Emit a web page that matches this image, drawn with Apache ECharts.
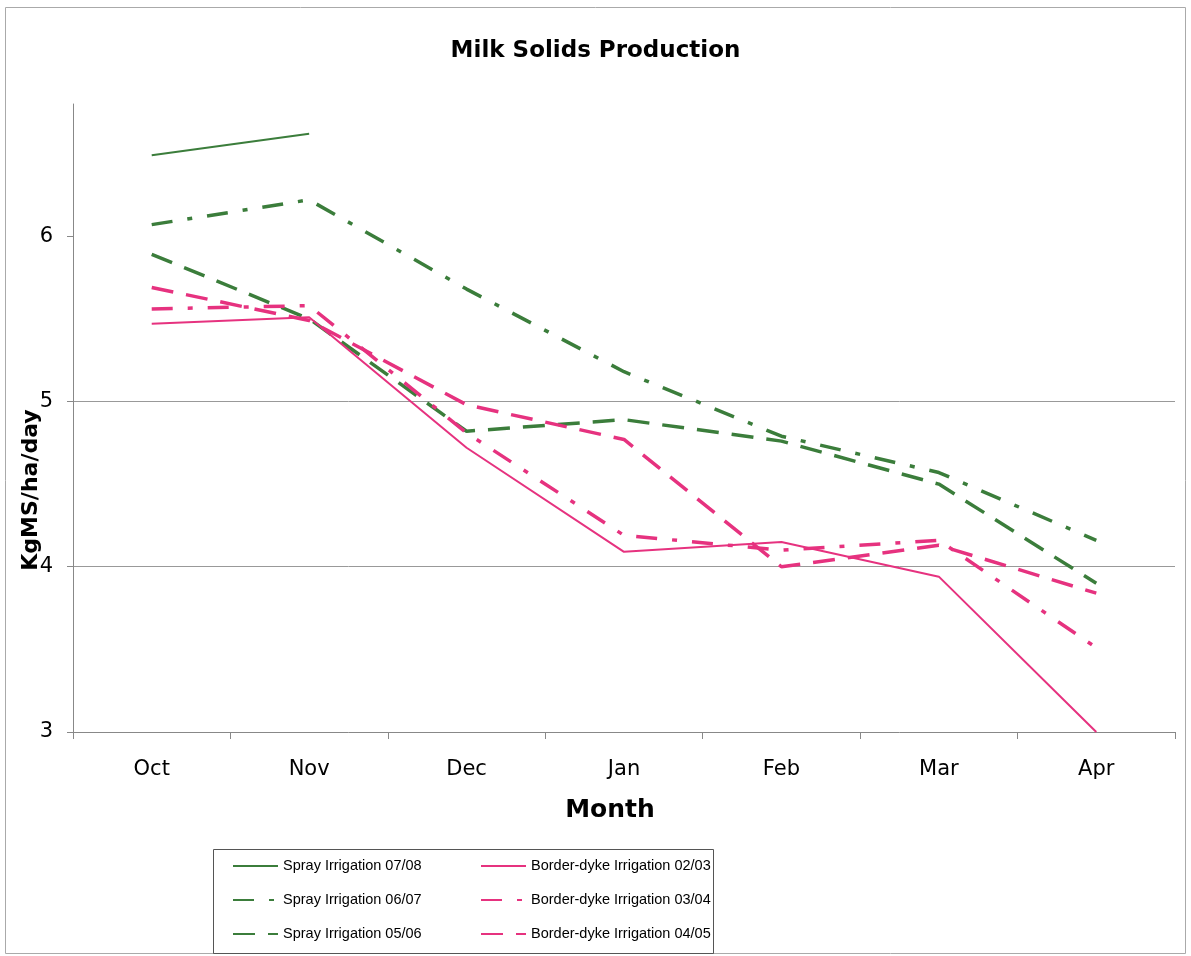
<!DOCTYPE html>
<html>
<head>
<meta charset="utf-8">
<script src="https://cdn.jsdelivr.net/npm/echarts@6/dist/echarts.min.js"></script>
<style>
  html, body { margin: 0; padding: 0; background: #fff; }
  #main { width: 1191px; height: 956px; }
</style>
</head>
<body>
<div id="main"></div>
<script>
// categories and tick values
const months = ['Oct', 'Nov', 'Dec', 'Jan', 'Feb', 'Mar', 'Apr'];
const yTicks = [3, 4, 5, 6];

// KgMS/ha/day
const spray0708 = [6.49, 6.62, null, null, null, null, null];
const spray0607 = [6.07, 6.22, 5.68, 5.18, 4.79, 4.57, 4.16];
const spray0506 = [5.89, 5.50, 4.82, 4.89, 4.76, 4.50, 3.90];
const border0203 = [5.47, 5.51, 4.72, 4.09, 4.15, 3.94, 3.00];
const border0304 = [5.56, 5.58, 4.81, 4.19, 4.10, 4.16, 3.51];
const border0405 = [5.69, 5.49, 4.98, 4.77, 4.00, 4.13, 3.84];

const GREEN = '#3b7d3b';
const PINK = '#e6327f';
const DASH = [22, 13];
const DASHDOT = [21, 15, 5, 15];

function line(name, data, color, type, width) {
  return {
    name: name,
    type: 'line',
    data: data,
    symbol: 'none',
    connectNulls: false,
    silent: true,
    lineStyle: { color: color, type: type, width: width, cap: 'butt' },
    itemStyle: { color: color }
  };
}

function legendBox(left, names) {
  return {
    orient: 'vertical',
    left: left,
    top: 856,
    padding: 0,
    itemWidth: 45,
    itemHeight: 14,
    itemGap: 14,
    itemStyle: { opacity: 0 },
    textStyle: { fontFamily: 'Liberation Sans', fontSize: 14.5, color: '#000', lineHeight: 20 },
    data: names
  };
}

const chart = echarts.init(document.getElementById('main'));

chart.setOption({
  backgroundColor: '#fff',
  animation: false,
  title: {
    text: 'Milk Solids Production',
    left: 'center',
    top: 35,
    textStyle: { fontFamily: 'DejaVu Sans', fontWeight: 'bold', fontSize: 23, color: '#000' }
  },
  grid: { left: 73, right: 16, top: 104, bottom: 224 },
  legend: [
    legendBox(232, ['Spray Irrigation 07/08', 'Spray Irrigation 06/07', 'Spray Irrigation 05/06']),
    legendBox(480, ['Border-dyke Irrigation 02/03', 'Border-dyke Irrigation 03/04', 'Border-dyke Irrigation 04/05'])
  ],
  xAxis: {
    type: 'category',
    data: months,
    boundaryGap: true,
    name: 'Month',
    nameLocation: 'middle',
    nameGap: 66,
    nameTextStyle: { fontFamily: 'DejaVu Sans', fontWeight: 'bold', fontSize: 25, color: '#000', padding: [0, 28, 0, 0] },
    axisLine: { lineStyle: { color: '#888', width: 1 } },
    axisTick: { show: true, interval: 0, length: 7, lineStyle: { color: '#888' } },
    axisLabel: { margin: 27, fontFamily: 'DejaVu Sans', fontSize: 21, color: '#000' }
  },
  yAxis: {
    type: 'value',
    min: 3,
    max: 6.8,
    interval: 1,
    axisLine: { show: true, lineStyle: { color: '#888', width: 1 } },
    axisTick: { show: true, length: 6, customValues: yTicks, lineStyle: { color: '#888' } },
    axisLabel: { margin: 20, customValues: yTicks, fontFamily: 'DejaVu Sans', fontSize: 21, color: '#000' },
    splitLine: { show: true, showMinLine: false, showMaxLine: false, lineStyle: { color: '#999', width: 1 } }
  },
  graphic: [
    {
      type: 'rect',
      shape: { x: 5.5, y: 7.5, width: 1180, height: 946 },
      style: { fill: 'none', stroke: '#aaa', lineWidth: 1 },
      silent: true
    },
    {
      type: 'rect',
      shape: { x: 213.5, y: 849.5, width: 500, height: 104 },
      style: { fill: 'none', stroke: '#555', lineWidth: 1 },
      silent: true
    },
    {
      type: 'text',
      x: 31,
      y: 490,
      rotation: Math.PI / 2,
      style: {
        text: 'KgMS/ha/day',
        fontFamily: 'DejaVu Sans',
        fontWeight: 'bold',
        fontSize: 22,
        fill: '#000',
        align: 'center',
        verticalAlign: 'middle'
      },
      silent: true
    }
  ],
  series: [
    line('Spray Irrigation 07/08', spray0708, GREEN, 'solid', 2),
    line('Spray Irrigation 06/07', spray0607, GREEN, DASHDOT, 3.5),
    line('Spray Irrigation 05/06', spray0506, GREEN, DASH, 3.5),
    line('Border-dyke Irrigation 02/03', border0203, PINK, 'solid', 2),
    line('Border-dyke Irrigation 03/04', border0304, PINK, DASHDOT, 3.5),
    line('Border-dyke Irrigation 04/05', border0405, PINK, DASH, 3.5)
  ]
});
</script>
</body>
</html>
